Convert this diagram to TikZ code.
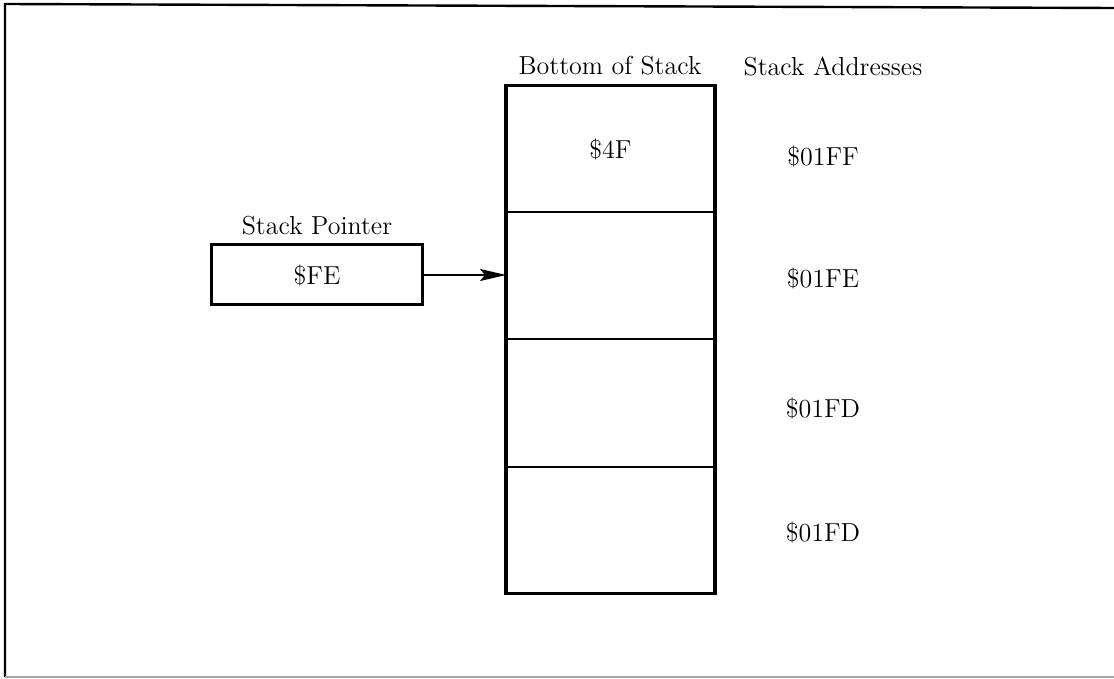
\documentclass[tikz,border=0pt]{standalone}
\usepackage{tikz}
\usetikzlibrary{arrows.meta,positioning,calc}

\begin{document}
\begin{tikzpicture}[
  x=0.5pt, y=-0.5pt,
  every node/.style={font=\fontsize{13}{15}\selectfont},
  cell/.style={rectangle, draw, line width=1pt, minimum width=104.5pt,
    minimum height=63.5pt, inner sep=0pt, outer sep=0pt},
  ptrbox/.style={rectangle, draw, line width=1.5pt, minimum width=105.5pt,
    minimum height=30pt, inner sep=0pt},
  lbl/.style={inner sep=1pt},
  ptr/.style={-{Stealth[length=13pt,width=6pt,inset=2.5pt]}, line width=0.8pt}
]
\useasboundingbox (0,0) rectangle (1114,679);

% Frame
\draw[line width=1.2pt] (1114,8) -- (5,4) -- (5,677);
\draw[line width=0.8pt, gray!70] (5,677) -- (1114,677);

% Stack cells
\node[cell] (c1) at (610.5,149) {\raisebox{-2pt}{\$4F}};
\node[cell, below=0pt of c1] (c2) {};
\node[cell, below=0pt of c2] (c3) {};
\node[cell, below=0pt of c3] (c4) {};
\draw[line width=1.6pt] (c1.north west) rectangle (c4.south east);

% Headings
\node[lbl] (bottom) at (610,66) {Bottom of Stack};
\node[lbl] (addr)   at (833,66) {Stack Addresses};

% Addresses
\node[lbl] (a1) at (823,156) {\$01FF};
\node[lbl] (a2) at (823,278) {\$01FE};
\node[lbl] (a3) at (823,408) {\$01FD};
\node[lbl] (a4) at (823,532) {\$01FD};

% Stack pointer
\node[ptrbox] (sp) at (317,275) {\$FE};
\node[lbl, above=3pt of sp] (splabel) {Stack Pointer};
\draw[ptr] (sp.east) -- (sp.east -| c2.west);

\end{tikzpicture}
\end{document}
